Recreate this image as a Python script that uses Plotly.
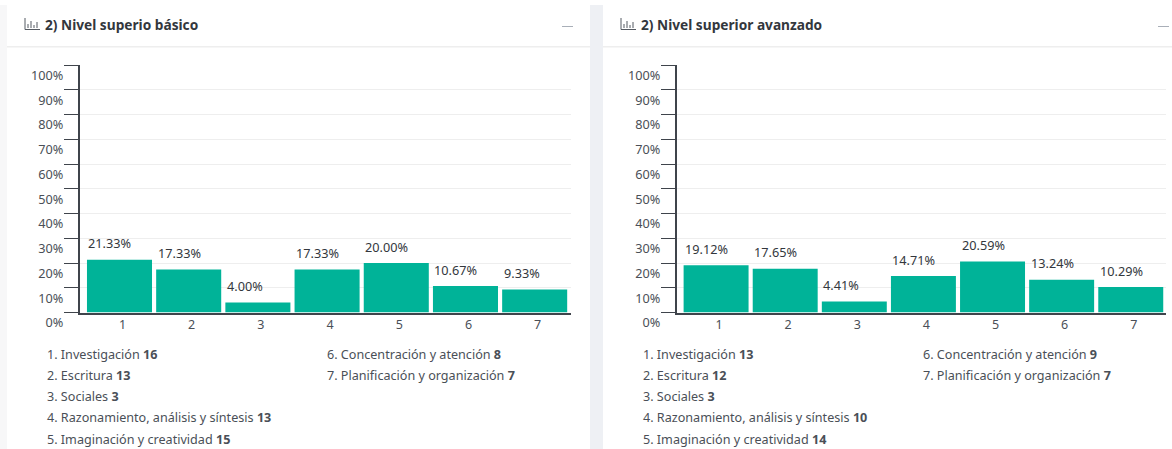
import plotly.graph_objects as go

W, H = 1172, 449
categories = ["1", "2", "3", "4", "5", "6", "7"]
names = ["Investigación", "Escritura", "Sociales", "Razonamiento, análisis y síntesis",
         "Imaginación y creatividad", "Concentración y atención", "Planificación y organización"]
basic_pct = [21.33, 17.33, 4.00, 17.33, 20.00, 10.67, 9.33]
basic_counts = [16, 13, 3, 13, 15, 8, 7]
adv_pct = [19.12, 17.65, 4.41, 14.71, 20.59, 13.24, 10.29]
adv_counts = [13, 12, 3, 10, 14, 9, 7]
y_ticks = [0, 10, 20, 30, 40, 50, 60, 70, 80, 90, 100]
titles = ["2) Nivel superio básico", "2) Nivel superior avanzado"]

FONT = "Noto Sans"
TXT = "#4a4f57"
DARK = "#3f444b"
GREEN = "#00b398"

def px(x): return x / W
def py(y): return 1 - y / H

fig = go.Figure()
ann = []
for vals, ax in [(basic_pct, ""), (adv_pct, "2")]:
    fig.add_trace(go.Bar(
        x=categories, y=vals, xaxis="x" + ax, yaxis="y" + ax,
        marker=dict(color=GREEN, line=dict(width=0)),
        showlegend=False, hoverinfo="skip",
    ))
    for idx, v in enumerate(vals):
        ann.append(dict(xref="x" + ax, yref="y" + ax, x=idx, y=v, text=f"{v:.2f}%", showarrow=False,
                        xanchor="left", yanchor="bottom", xshift=-33, yshift=5.5,
                        font=dict(family=FONT, size=12.7, color="#33373d")))

def xaxis(dom, anchor, rng):
    return dict(domain=dom, anchor=anchor, type="category", range=rng, showgrid=False,
                showline=True, linecolor=DARK, linewidth=1.5, ticks="",
                tickfont=dict(family=FONT, size=12.5, color=TXT), ticklabelshift=3, fixedrange=True)

def yaxis(anchor):
    return dict(domain=[py(312.5), py(65)], anchor=anchor, range=[0, 100], tickvals=y_ticks,
                ticktext=[f"{t}%" for t in y_ticks], showgrid=True, gridcolor="#eeeeee", gridwidth=1,
                showline=True, linecolor=DARK, linewidth=1.5, ticks="outside", ticklen=14,
                tickcolor=DARK, tickwidth=1, ticklabelposition="outside bottom", ticklabelstandoff=12,
                ticklabelshift=1, zeroline=False, tickfont=dict(family=FONT, size=12.7, color=TXT), fixedrange=True)

shapes = [
    dict(type="rect", xref="paper", yref="paper", x0=0, x1=px(7), y0=0, y1=py(5), fillcolor="#f7f7f8", line_width=0, layer="below"),
    dict(type="rect", xref="paper", yref="paper", x0=px(590), x1=px(603), y0=0, y1=py(5), fillcolor="#eef0f4", line_width=0, layer="below"),
    dict(type="rect", xref="paper", yref="paper", x0=px(7), x1=px(590), y0=py(47.5), y1=py(46), fillcolor="#eeeeee", line_width=0, layer="below"),
    dict(type="rect", xref="paper", yref="paper", x0=px(603), x1=1, y0=py(47.5), y1=py(46), fillcolor="#eeeeee", line_width=0, layer="below"),
    dict(type="rect", xref="paper", yref="paper", x0=px(562), x1=px(573), y0=py(27), y1=py(26), fillcolor="#a9afb8", line_width=0),
    dict(type="rect", xref="paper", yref="paper", x0=px(1158), x1=px(1169), y0=py(27), y1=py(26), fillcolor="#a9afb8", line_width=0),
]
# bar-chart header icons
for x0 in (25, 621):
    shapes.append(dict(type="path", xref="paper", yref="paper", line=dict(color="#555a62", width=1),
                       path=f"M {px(x0)} {py(18)} L {px(x0)} {py(29.5)} L {px(x0+15)} {py(29.5)}"))
    for dx, top in ((3, 24), (6, 21), (9, 25), (12, 22)):
        shapes.append(dict(type="line", xref="paper", yref="paper", x0=px(x0+dx), x1=px(x0+dx),
                           y0=py(28), y1=py(top), line=dict(color="#555a62", width=1)))

for tx, title in zip((42.5, 638.5), titles):
    ann.append(dict(xref="paper", yref="paper", x=px(tx), y=py(24.5), text=f"<b>{title}</b>", showarrow=False,
                    xanchor="left", yanchor="middle", font=dict(family=FONT, size=13.7, color="#33373d")))

rows = [354, 375.5, 396.5, 417.5, 439]
for x_left, x_right, counts in ((45, 325, basic_counts), (641, 921, adv_counts)):
    for i, (n, c) in enumerate(zip(names, counts)):
        x = x_left if i < 5 else x_right
        y = rows[i] if i < 5 else rows[i - 5]
        ann.append(dict(xref="paper", yref="paper", x=px(x), y=py(y), text=f"{i+1}. {n} <b>{c}</b>", showarrow=False,
                        xanchor="left", yanchor="middle", font=dict(family=FONT, size=12.6, color=TXT)))

fig.update_layout(
    width=W, height=H, autosize=False, margin=dict(l=0, r=0, t=0, b=0, pad=0, autoexpand=False),
    paper_bgcolor="white", plot_bgcolor="white", bargap=0.06,
    xaxis=xaxis([px(79.7), px(571)], "y", [-0.575, 6.525]), yaxis=yaxis("x"),
    xaxis2=xaxis([px(676.7), px(1166)], "y2", [-0.57, 6.51]), yaxis2=yaxis("x2"),
    shapes=shapes, annotations=ann,
)
post = """
document.documentElement.style.margin='0';document.documentElement.style.overflow='hidden';
document.body.style.margin='0';document.body.style.overflow='hidden';
var gd=document.getElementById('{plot_id}');
Plotly.relayout(gd,{width:1172,height:449});
"""
fig.write_html("out.html", config={"displayModeBar": False, "responsive": False},
               default_width="1172px", default_height="449px", post_script=post)
